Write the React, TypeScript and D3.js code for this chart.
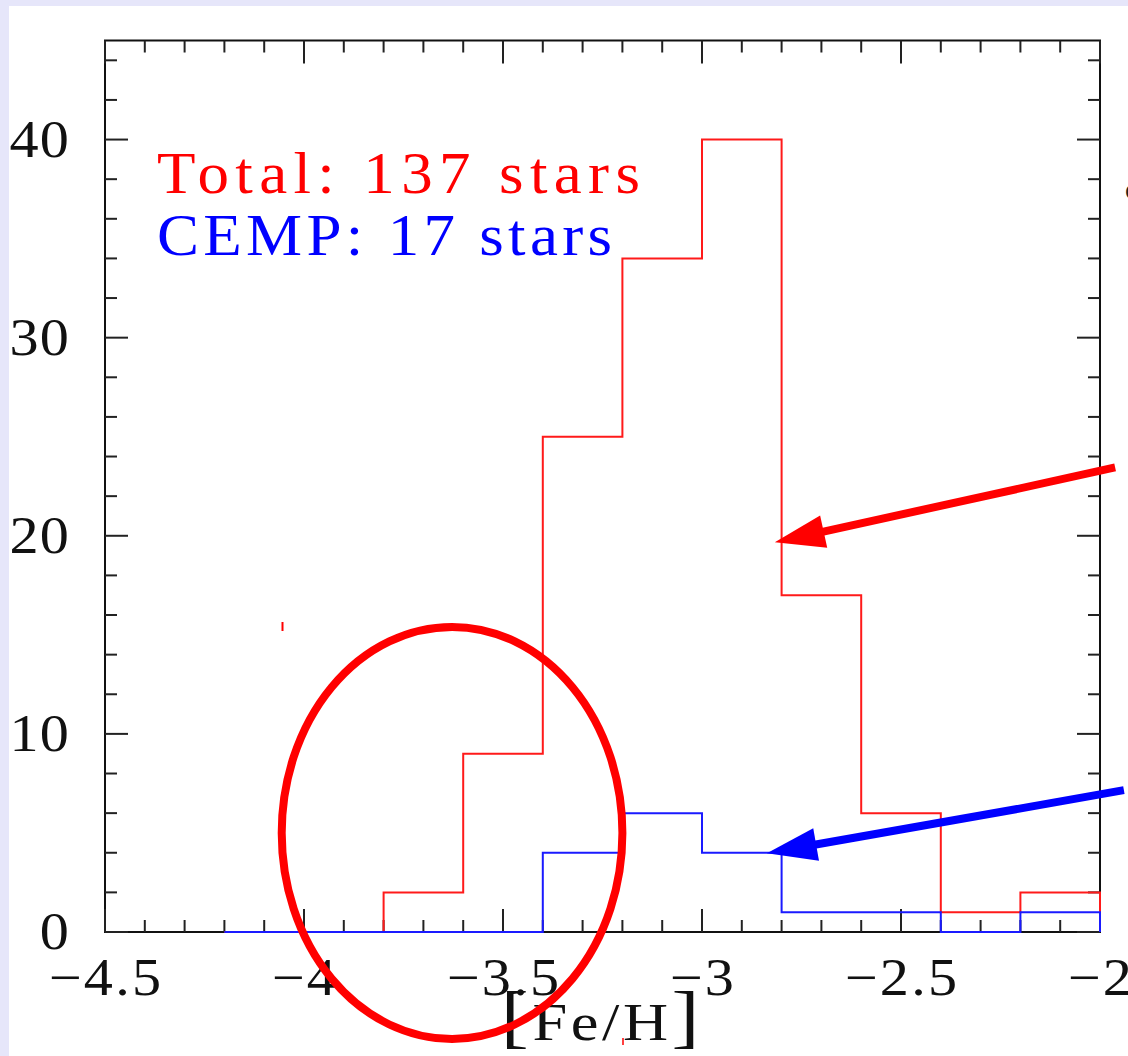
import React from 'react';
import * as d3 from 'd3';

// Histogram of [Fe/H] for the sample, bins of 0.2 dex
const binEdges = [-4.2, -4.0, -3.8, -3.6, -3.4, -3.2, -3.0, -2.8, -2.6, -2.4, -2.2, -2.0];
const totalCounts = [0, 0, 2, 9, 25, 34, 40, 17, 6, 1, 2];
const cempCounts = [0, 0, 0, 0, 4, 6, 4, 1, 1, 0, 1];

const xTickValues = [-4.5, -4, -3.5, -3, -2.5, -2];
const xTickLabels = ['−4.5', '−4', '−3.5', '−3', '−2.5', '−2'];
const yTickValues = [0, 10, 20, 30, 40];
const yTickLabels = ['0', '10', '20', '30', '40'];

const legendLabels = ['Total: 137 stars', 'CEMP: 17 stars'];
const legendColors = ['#ff0000', '#0000ff'];
const legendWidths = [483, 455];

// Highlight ring and pointer arrows, in data units
const ring = { cx: -3.628, cy: 5.0, rx: 0.428, ry: 10.4 };
const arrows = [
  { from: [-1.962, 23.45], to: [-2.817, 19.67], color: '#ff0000' },
  { from: [-1.94, 7.16], to: [-2.837, 3.98], color: '#0000ff' },
];

const W = 1128;
const H = 1056;
const FONT = '"Liberation Serif", "Times New Roman", serif';

export default function App() {
  const x = d3.scaleLinear().domain([-4.5, -2]).range([105, 1100]);
  const y = d3.scaleLinear().domain([0, 45]).range([932, 40.5]);

  const stepPoints = (edges: number[], counts: number[]) => {
    const pts: [number, number][] = [[edges[0], 0]];
    counts.forEach((c, i) => {
      pts.push([edges[i], c]);
      pts.push([edges[i + 1], c]);
    });
    pts.push([edges[edges.length - 1], 0]);
    return pts;
  };
  const line = d3
    .line<[number, number]>()
    .x((d) => x(d[0]))
    .y((d) => y(d[1]));

  const xMinor = d3.range(0, 26).map((i) => -4.5 + i * 0.1);
  const yMinor = d3.range(0, 23).map((i) => i * 2);
  const isMajorX = (v: number) => Math.abs(v * 2 - Math.round(v * 2)) < 1e-6;
  const isMajorY = (v: number) => Math.abs(v / 10 - Math.round(v / 10)) < 1e-6;
  const MAJ = 23;
  const MIN = 12;
  const [x0, x1] = x.range();
  const [y0, y1] = y.range();

  const arrowShapes = arrows.map((a) => {
    const tx = x(a.to[0]);
    const ty = y(a.to[1]);
    const fx = x(a.from[0]);
    const fy = y(a.from[1]);
    const len = Math.hypot(tx - fx, ty - fy);
    const ux = (tx - fx) / len;
    const uy = (ty - fy) / len;
    const headLen = 50;
    const half = 16.5;
    const bx = tx - ux * headLen;
    const by = ty - uy * headLen;
    const px = -uy;
    const py = ux;
    return {
      color: a.color,
      line: { x1: fx, y1: fy, x2: bx + ux * 6, y2: by + uy * 6 },
      head: `${tx},${ty} ${bx + px * half},${by + py * half} ${bx - px * half},${by - py * half}`,
    };
  });

  const SX = 1.12;
  const LSX = 1.05;

  return (
    <div style={{ position: 'absolute', left: 0, top: 0, width: W, height: H, overflow: 'hidden' }}>
      <svg width={W} height={H} viewBox={`0 0 ${W} ${H}`} style={{ display: 'block' }}>
        <rect x={0} y={0} width={W} height={H} fill="#e6e6fa" />
        <rect x={9} y={6} width={W - 9} height={H - 6} fill="#ffffff" />

        {/* frame */}
        <rect x={x0} y={y1} width={x1 - x0} height={y0 - y1} fill="none" stroke="#111" strokeWidth={2} />

        {/* x ticks, bottom and top, pointing inward */}
        {xMinor.map((v, i) => {
          const L = isMajorX(v) ? MAJ : MIN;
          const px = x(v);
          return (
            <g key={`xt${i}`} stroke="#222" strokeWidth={2}>
              <line x1={px} x2={px} y1={y0} y2={y0 - L} />
              <line x1={px} x2={px} y1={y1} y2={y1 + L} />
            </g>
          );
        })}
        {/* y ticks, left and right */}
        {yMinor.map((v, i) => {
          const L = isMajorY(v) ? MAJ : MIN;
          const py = y(v);
          return (
            <g key={`yt${i}`} stroke="#222" strokeWidth={2}>
              <line x1={x0} x2={x0 + L} y1={py} y2={py} />
              <line x1={x1} x2={x1 - L} y1={py} y2={py} />
            </g>
          );
        })}

        {/* tick labels */}
        {xTickValues.map((v, i) => (
          <text
            key={`xl${i}`}
            transform={`translate(${x(v) + 1},995) scale(${SX},1)`}
            textAnchor="middle"
            fontFamily={FONT}
            fontSize={52}
            letterSpacing={2}
            fill="#111"
          >
            {xTickLabels[i]}
          </text>
        ))}
        {yTickValues.map((v, i) => (
          <text
            key={`yl${i}`}
            transform={`translate(70,${y(v) + 17}) scale(${SX},1)`}
            textAnchor="end"
            fontFamily={FONT}
            fontSize={52}
            letterSpacing={1}
            fill="#111"
          >
            {yTickLabels[i]}
          </text>
        ))}

        {/* axis title */}
        <text
          transform="translate(602,1040) scale(1.2,1)"
          textAnchor="middle"
          fontFamily={FONT}
          fill="#111"
          letterSpacing={3}
        >
          <tspan fontSize={70}>[</tspan>
          <tspan fontSize={52}>Fe/H</tspan>
          <tspan fontSize={70}>]</tspan>
        </text>

        {/* histograms */}
        <path d={line(stepPoints(binEdges, totalCounts)) || ''} fill="none" stroke="#ff1a1a" strokeWidth={2} />
        <path d={line(stepPoints(binEdges, cempCounts)) || ''} fill="none" stroke="#1a1aff" strokeWidth={2} />

        {/* legend */}
        {legendLabels.map((t, i) => (
          <text
            key={`lg${i}`}
            transform={`translate(157,${193 + i * 62}) scale(${LSX},1)`}
            fontFamily={FONT}
            fontSize={60}
            textLength={legendWidths[i] / LSX}
            lengthAdjust="spacing"
            fill={legendColors[i]}
          >
            {t}
          </text>
        ))}

        {/* highlight ring */}
        <ellipse
          cx={x(ring.cx)}
          cy={y(ring.cy)}
          rx={x(ring.cx + ring.rx) - x(ring.cx)}
          ry={y(ring.cy) - y(ring.cy + ring.ry)}
          fill="none"
          stroke="#ff0000"
          strokeWidth={8}
        />

        {/* pointer arrows */}
        {arrowShapes.map((a, i) => (
          <g key={`ar${i}`}>
            <line {...a.line} stroke={a.color} strokeWidth={8} />
            <polygon points={a.head} fill={a.color} />
          </g>
        ))}

        {/* small stray marks */}
        <line x1={282.5} x2={282.5} y1={622} y2={631} stroke="#ff0000" strokeWidth={2} />
        <line x1={623} x2={623} y1={1038} y2={1045} stroke="#ff0000" strokeWidth={1.5} />
        <text x={1125} y={199} fontFamily={FONT} fontSize={30} fill="#222">c</text>
      </svg>
    </div>
  );
}
